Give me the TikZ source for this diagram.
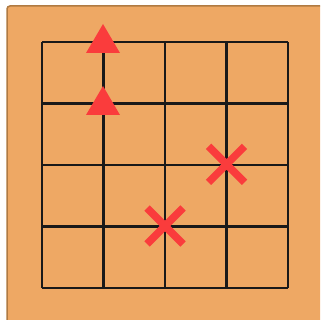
\documentclass[tikz,border=0pt]{standalone}
\begin{document}
\begin{tikzpicture}[x=1pt,y=-1pt,
  gridline/.style={line width=2.6pt,black!90},
  mark/.style={},
  redtri/.style={fill=red!75!white!100,draw=none},
  redx/.style={line width=7.5pt,draw={rgb,255:red,250;green,60;blue,60}}]
\definecolor{board}{RGB}{238,168,100}
\definecolor{rim}{RGB}{176,122,66}
\definecolor{mk}{RGB}{250,60,60}
\useasboundingbox (0,0) rectangle (320,320);
\fill[white] (0,0) rectangle (320,320);
\begin{scope}
\clip (0,0) rectangle (320,320);
\fill[board,draw=rim,line width=1.5pt,rounded corners=3pt] (7,6) rectangle (340,340);
\end{scope}
\foreach \v in {42,103.5,165,226.5,288} {
  \draw[gridline] (\v,42) -- (\v,288);
  \draw[gridline] (42,\v) -- (288,\v);
}
\node[coordinate] (t1) at (103,43) {};
\node[coordinate] (t2) at (103,105) {};
\fill[mk] (103,24) -- (86,53) -- (120,53) -- cycle;
\fill[mk] (103,86) -- (86,115) -- (120,115) -- cycle;
\draw[mk,line width=7.5pt] (208.5,146.3) -- (244.5,182.3) (244.5,146.3) -- (208.5,182.3);
\draw[mk,line width=7.5pt] (147,208) -- (183,244) (183,208) -- (147,244);
\end{tikzpicture}
\end{document}
